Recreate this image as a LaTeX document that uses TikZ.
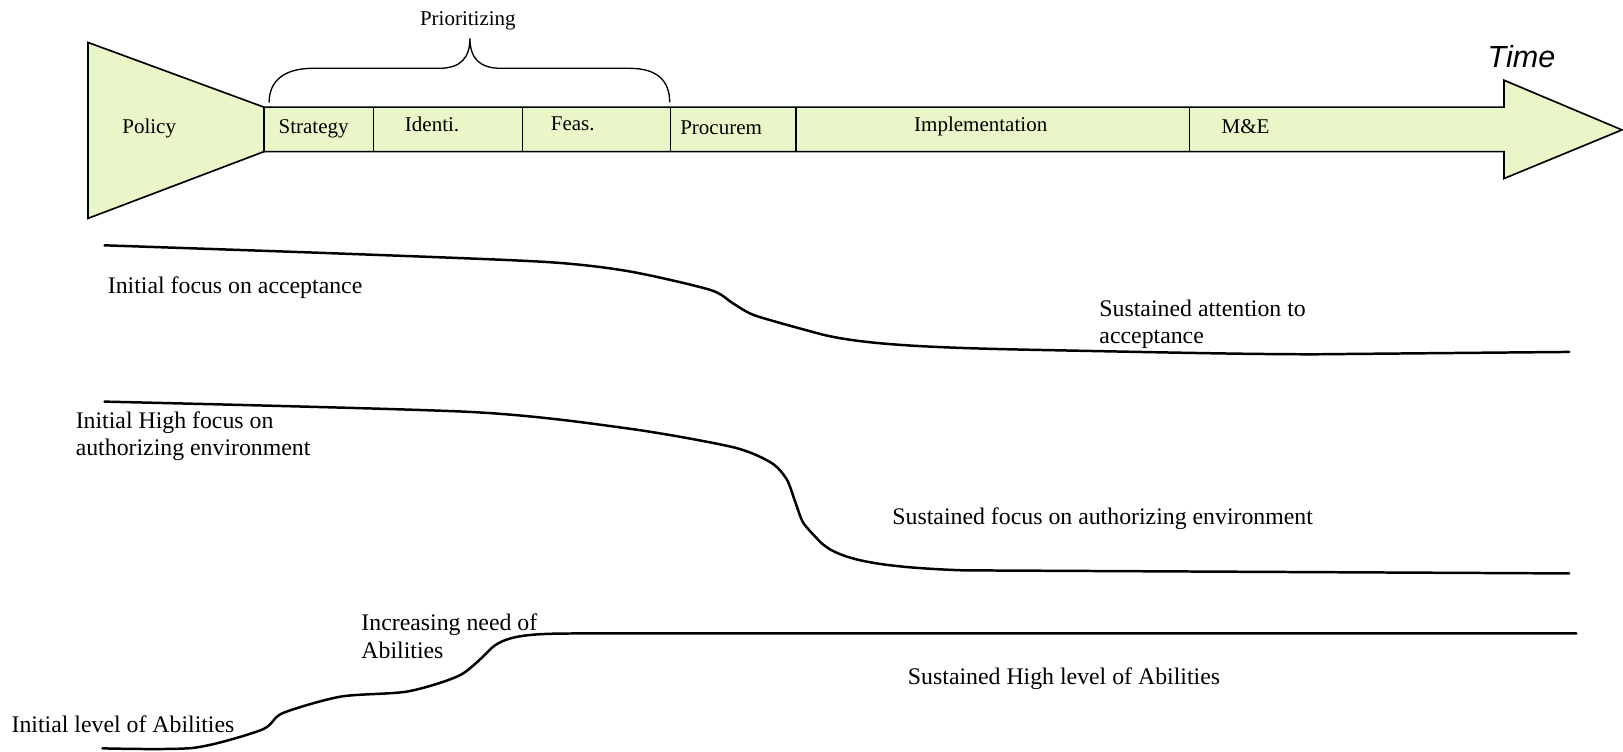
\documentclass[tikz,border=0pt]{standalone}
\usepackage{fontspec}
\setmainfont{Liberation Serif}
\newfontfamily\arialfont{Liberation Sans}
\definecolor{phasefill}{RGB}{232,246,200}
\begin{document}
\begin{tikzpicture}[x=1pt,y=-1pt,
  outline/.style={draw=black,line width=1.6pt,line join=miter},
  divider/.style={draw=black,line width=1.3pt},
  phase/.style={anchor=base west,inner sep=0pt,font=\fontsize{20.3}{24}\selectfont},
  trend/.style={draw=black,line width=2.4pt,line cap=round},
  note/.style={anchor=base west,inner sep=0pt,align=left,font=\fontsize{23}{26.5}\selectfont},
  brace/.style={draw=black,line width=1.3pt}]
\useasboundingbox (0,0) rectangle (1568,726);

% policy funnel and the time arrow
\path[outline,fill=phasefill] (85,41) -- (255,103.5) -- (255,146.5) -- (85,211) -- cycle;
\path[outline,fill=phasefill] (255,103.5) -- (1453,103.5) -- (1453,77.5) -- (1567,125.5)
  -- (1453,172.5) -- (1453,146.5) -- (255,146.5) -- cycle;
\foreach \xx in {361,505,648,769,1149}
  \draw[divider] (\xx,103.5) -- (\xx,146.5);

% phase labels
\node[phase] (policy) at (118,129) {Policy};
\node[phase] (strategy) at (269,129) {Strategy};
\node[phase] (identi) at (391,127) {Identi.};
\node[phase] (feas) at (532,126) {Feas.};
\node[phase] (procurem) at (657,130) {Procurem};
\node[phase] (impl) at (883,127.5) {Implementation};
\node[phase] (me) at (1180,128.5) {M\&E};
\node[anchor=base west,inner sep=0pt,font=\arialfont\itshape\fontsize{29.5}{34}\selectfont] (time) at (1437,65) {Time};

% brace over the prioritizing phases
\draw[brace] (260,99) .. controls (260,77) and (276,66) .. (302,66) -- (424,66)
  .. controls (445,66) and (454,56) .. (454,37)
  .. controls (454,56) and (463,66) .. (484,66) -- (608,66)
  .. controls (634,66) and (647,77) .. (647,99);
\node[anchor=base,inner sep=0pt,font=\fontsize{20.3}{24}\selectfont] (prio) at (452,25) {Prioritizing};

% acceptance
\draw[trend] plot[smooth,tension=0.45] coordinates {(101,237) (330,245) (526,253) (607,262) (686,280)
  (708,293) (730,305) (790,322)} .. controls (830,333) and (900,336) .. (1000,338)
  .. controls (1150,341) and (1240,343) .. (1300,342) -- (1516,340);
\node[note] (acc0) at (104,284) {Initial focus on acceptance};
\node[note] (acc1) at (1062,332) {Sustained attention to\\acceptance};

% authorizing environment
\draw[trend] plot[smooth,tension=0.45] coordinates {(101,388) (455,398) (607,414) (708,432) (745,447)
  (760,463) (768,484) (776,505) (791,522)} .. controls (808,541) and (850,548) .. (930,551) -- (1516,554);
\node[note] (auth0) at (73,440) {Initial High focus on\\authorizing environment};
\node[note] (auth1) at (862,507) {Sustained focus on authorizing environment};

% abilities
\draw[trend] plot[smooth,tension=0.45] coordinates {(99,723) (187,722.5) (253,705) (273,689) (329,673)
  (394,668) (445,652) (475,626)} .. controls (490,613) and (515,612) .. (560,612) -- (1523,612);
\node[note] (abl0) at (11,708) {Initial level of Abilities};
\node[note] (abl1) at (349,636) {Increasing need of\\Abilities};
\node[note] (abl2) at (877,661) {Sustained High level of Abilities};
\end{tikzpicture}
\end{document}
